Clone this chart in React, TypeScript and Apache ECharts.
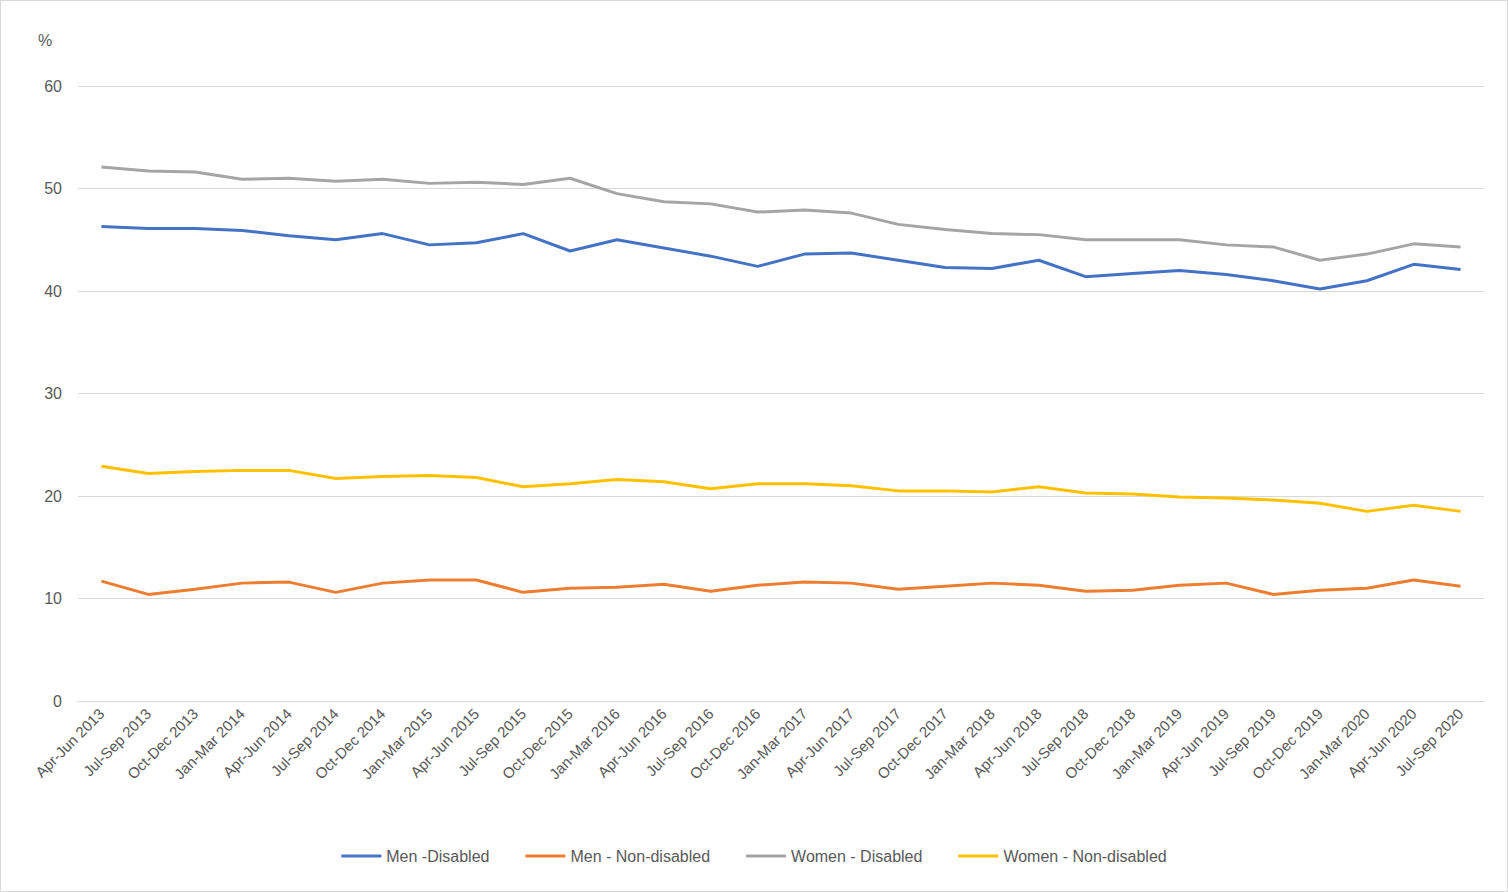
import React, { useEffect, useRef } from "react";
import * as echarts from "echarts";

const categories = [
  "Apr-Jun 2013", "Jul-Sep 2013", "Oct-Dec 2013", "Jan-Mar 2014", "Apr-Jun 2014", "Jul-Sep 2014",
  "Oct-Dec 2014", "Jan-Mar 2015", "Apr-Jun 2015", "Jul-Sep 2015", "Oct-Dec 2015", "Jan-Mar 2016",
  "Apr-Jun 2016", "Jul-Sep 2016", "Oct-Dec 2016", "Jan-Mar 2017", "Apr-Jun 2017", "Jul-Sep 2017",
  "Oct-Dec 2017", "Jan-Mar 2018", "Apr-Jun 2018", "Jul-Sep 2018", "Oct-Dec 2018", "Jan-Mar 2019",
  "Apr-Jun 2019", "Jul-Sep 2019", "Oct-Dec 2019", "Jan-Mar 2020", "Apr-Jun 2020", "Jul-Sep 2020",
];

const menDisabled = [
  46.3, 46.1, 46.1, 45.9, 45.4, 45.0, 45.6, 44.5, 44.7, 45.6, 43.9, 45.0, 44.2, 43.4, 42.4,
  43.6, 43.7, 43.0, 42.3, 42.2, 43.0, 41.4, 41.7, 42.0, 41.6, 41.0, 40.2, 41.0, 42.6, 42.1,
];
const menNonDisabled = [
  11.7, 10.4, 10.9, 11.5, 11.6, 10.6, 11.5, 11.8, 11.8, 10.6, 11.0, 11.1, 11.4, 10.7, 11.3,
  11.6, 11.5, 10.9, 11.2, 11.5, 11.3, 10.7, 10.8, 11.3, 11.5, 10.4, 10.8, 11.0, 11.8, 11.2,
];
const womenDisabled = [
  52.1, 51.7, 51.6, 50.9, 51.0, 50.7, 50.9, 50.5, 50.6, 50.4, 51.0, 49.5, 48.7, 48.5, 47.7,
  47.9, 47.6, 46.5, 46.0, 45.6, 45.5, 45.0, 45.0, 45.0, 44.5, 44.3, 43.0, 43.6, 44.6, 44.3,
];
const womenNonDisabled = [
  22.9, 22.2, 22.4, 22.5, 22.5, 21.7, 21.9, 22.0, 21.8, 20.9, 21.2, 21.6, 21.4, 20.7, 21.2,
  21.2, 21.0, 20.5, 20.5, 20.4, 20.9, 20.3, 20.2, 19.9, 19.8, 19.6, 19.3, 18.5, 19.1, 18.5,
];

const font = "'Liberation Sans', Arial, sans-serif";
const textColor = "#595959";

const App: React.FC = () => {
  const chartRef = useRef<HTMLDivElement>(null);

  useEffect(() => {
    document.body.style.margin = "0";
    if (!chartRef.current) return;
    const chart = echarts.init(chartRef.current, undefined, { renderer: "svg" });

    const line = (name: string, data: number[], color: string) => ({
      name,
      type: "line",
      data,
      symbol: "none",
      lineStyle: { color, width: 3 },
      itemStyle: { color },
    });

    chart.setOption({
      animation: false,
      textStyle: { fontFamily: font },
      grid: { left: 77, right: 23, top: 85, bottom: 190 },
      legend: {
        bottom: 22,
        left: "center",
        itemWidth: 40,
        itemHeight: 3,
        itemGap: 36,
        icon: "rect",
        textStyle: { color: textColor, fontSize: 16, fontFamily: font },
      },
      graphic: [
        { type: "text", left: 37, top: 31, style: { text: "%", fill: textColor, font: `16px ${font}` } },
      ],
      xAxis: {
        type: "category",
        data: categories,
        boundaryGap: true,
        axisLine: { lineStyle: { color: "#d9d9d9" } },
        axisTick: { show: false },
        axisLabel: { rotate: 45, color: textColor, fontSize: 15, interval: 0, margin: 10 },
      },
      yAxis: {
        type: "value",
        min: 0,
        max: 60,
        interval: 10,
        axisLine: { show: false },
        axisTick: { show: false },
        axisLabel: { color: textColor, fontSize: 16, margin: 16 },
        splitLine: { lineStyle: { color: "#d9d9d9" } },
      },
      series: [
        line("Men -Disabled", menDisabled, "#4472c4"),
        line("Men - Non-disabled", menNonDisabled, "#ed7d31"),
        line("Women - Disabled", womenDisabled, "#a5a5a5"),
        line("Women - Non-disabled", womenNonDisabled, "#ffc000"),
      ],
    });

    return () => chart.dispose();
  }, []);

  return (
    <div
      ref={chartRef}
      style={{ width: 1506, height: 890, border: "1px solid #d9d9d9", background: "#fff" }}
    />
  );
};

export default App;
